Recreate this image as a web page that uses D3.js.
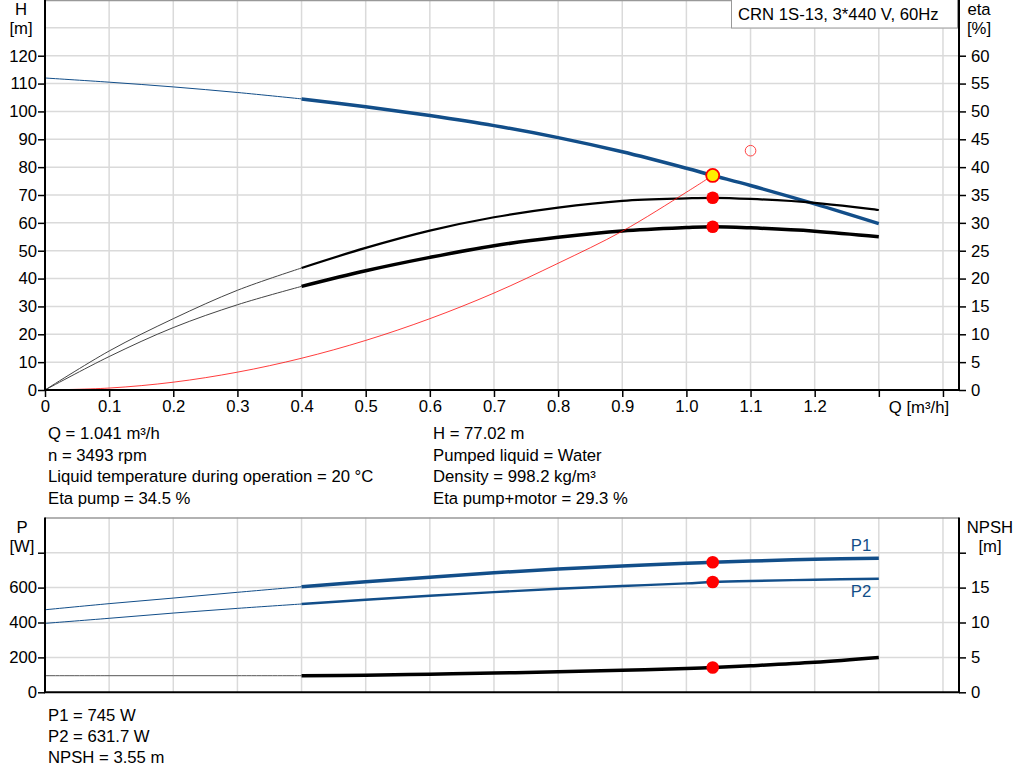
<!DOCTYPE html>
<html>
<head>
<meta charset="utf-8">
<script src="https://cdn.jsdelivr.net/npm/d3@7"></script>
<style>
  body { margin: 0; background: #fff; }
  svg text { font-family: "Liberation Sans", Arial, sans-serif; font-size: 16.7px; fill: #000; }
</style>
</head>
<body>
<svg id="chart" width="1024" height="781"></svg>
<script>
// flow points (m³/h) the curves were read at
const flow = [0, 0.1, 0.2, 0.3, 0.4, 0.5, 0.6, 0.7, 0.8, 0.9, 1.0, 1.041, 1.1, 1.2, 1.3];
const head = [112, 110.5, 108.8, 106.8, 104.5, 101.7, 98.5, 94.9, 90.6, 85.5, 79.6, 77.02, 73.4, 66.8, 59.7];
const etaPump = [0, 7.0, 12.8, 17.9, 21.9, 25.5, 28.6, 31.0, 32.75, 33.95, 34.4, 34.5, 34.3, 33.6, 32.3];
const etaTotal = [0, 6.0, 11.2, 15.3, 18.6, 21.4, 23.8, 25.9, 27.4, 28.55, 29.15, 29.3, 29.1, 28.5, 27.5];
const p1 = [473, 508, 540, 573, 605, 633, 660, 685, 706, 724, 739, 745, 752, 762, 768];
const p2 = [395, 424, 454, 481, 506, 530, 553, 574, 593, 609, 624, 631.7, 638, 645, 651];
const npsh = [2.38, 2.38, 2.38, 2.38, 2.38, 2.45, 2.6, 2.75, 2.93, 3.15, 3.4, 3.55, 3.8, 4.3, 5.0];

// system curve, ends at duty point
const sysFlow = [0, 0.1, 0.2, 0.3, 0.4, 0.5, 0.6, 0.7, 0.8, 0.9, 1.0, 1.041];
const sysHead = [0, 0.7, 2.8, 6.4, 11.4, 17.8, 25.6, 34.8, 45.5, 57.0, 71.0, 77.02];

const duty = { q: 1.041, h: 77.02, etaPump: 34.5, etaTotal: 29.3, p1: 745, p2: 631.7, npsh: 3.55 };
const requested = { q: 1.1, h: 85.9 };

const xTicks = [0, 0.1, 0.2, 0.3, 0.4, 0.5, 0.6, 0.7, 0.8, 0.9, 1.0, 1.1, 1.2, 1.3, 1.4];
const hTicks = [0, 10, 20, 30, 40, 50, 60, 70, 80, 90, 100, 110, 120];
const etaTicks = [0, 5, 10, 15, 20, 25, 30, 35, 40, 45, 50, 55, 60];
const pTicks = [0, 200, 400, 600, 800];
const npshTicks = [0, 5, 10, 15, 20];

const title = 'CRN 1S-13, 3*440 V, 60Hz';
const infoLeft = ['Q = 1.041 m³/h', 'n = 3493 rpm', 'Liquid temperature during operation = 20 °C', 'Eta pump = 34.5 %'];
const infoRight = ['H = 77.02 m', 'Pumped liquid = Water', 'Density = 998.2 kg/m³', 'Eta pump+motor = 29.3 %'];
const infoPower = ['P1 = 745 W', 'P2 = 631.7 W', 'NPSH = 3.55 m'];

const blue = '#124e89';
const gridColor = '#dadada';
const fontSize = 16.7;
const svg = d3.select('#chart');

const left = 45, right = 959;
const x = d3.scaleLinear([0, 1.425], [left, right]);

// upper chart
const yH = d3.scaleLinear([0, 140], [390, 0]);
const yEta = d3.scaleLinear([0, 70], [390, 0]);
// lower chart
const yP = d3.scaleLinear([0, 1000], [692.3, 517.8]);
const yN = d3.scaleLinear([0, 25], [692.3, 517.8]);

const drawGrid = (g, yScale, yGrid, y0, y1) => {
  g.selectAll('.vg').data(xTicks.filter(d => d > 0)).join('line')
    .attr('x1', d => x(d)).attr('x2', d => x(d))
    .attr('y1', y0).attr('y2', y1)
    .attr('stroke', gridColor).attr('stroke-width', 1.5);
  g.selectAll('.hg').data(yGrid).join('line')
    .attr('x1', left).attr('x2', right)
    .attr('y1', d => yScale(d)).attr('y2', d => yScale(d))
    .attr('stroke', gridColor).attr('stroke-width', 1.5);
  g.append('line').attr('x1', left).attr('x2', right).attr('y1', y0 + 0.5).attr('y2', y0 + 0.5)
    .attr('stroke', '#999').attr('stroke-width', 1.5);
};

const styleAxis = g => {
  g.select('.domain').remove();
  g.selectAll('.tick line').attr('stroke', '#000').attr('stroke-width', 1.5);
  g.selectAll('.tick text').attr('font-size', fontSize).attr('fill', '#000').attr('font-family', null);
};

const sideAxis = (scale, ticks, labelled, side) => {
  const ax = (side === 'left' ? d3.axisLeft(scale).tickPadding(1) : d3.axisRight(scale).tickPadding(5))
    .tickValues(ticks).tickSize(7)
    .tickFormat(d => labelled(d) ? d : '');
  return g => g.call(ax).call(styleAxis);
};

const curve = (xs, ys, yScale) => d3.line()
  .x((d, i) => x(xs[i])).y(d => yScale(d))
  .curve(d3.curveCatmullRom.alpha(0.5))(ys);

// split a curve into the thin part (q <= 0.4) and the thick part (q >= 0.4)
const split = (xs, ys) => {
  const cut = xs.indexOf(0.4);
  return [[xs.slice(0, cut + 1), ys.slice(0, cut + 1)], [xs.slice(cut), ys.slice(cut)]];
};

const drawCurve = (g, xs, ys, yScale, thin, thick) => {
  const [a, b] = split(xs, ys);
  g.append('path').attr('d', curve(a[0], a[1], yScale))
    .attr('fill', 'none').attr('stroke', thin.color).attr('stroke-width', thin.width);
  g.append('path').attr('d', curve(b[0], b[1], yScale))
    .attr('fill', 'none').attr('stroke', thick.color).attr('stroke-width', thick.width);
};

const dot = (g, q, v, yScale) => g.append('circle')
  .attr('cx', x(q)).attr('cy', yScale(v)).attr('r', 6.3).attr('fill', '#ff0000');

// ---- upper chart ----
const upper = svg.append('g');
drawGrid(upper, yH, d3.range(10, 140, 10), 0, 390);

drawCurve(upper, flow, head, yH, { color: blue, width: 1 }, { color: blue, width: 3.5 });
drawCurve(upper, flow, etaPump, yEta, { color: '#444', width: 1 }, { color: '#000', width: 2.2 });
drawCurve(upper, flow, etaTotal, yEta, { color: '#444', width: 1 }, { color: '#000', width: 3.5 });

upper.append('path').attr('d', curve(sysFlow, sysHead, yH))
  .attr('fill', 'none').attr('stroke', '#ff0000').attr('stroke-width', 0.9).attr('opacity', 0.85);

upper.append('circle').attr('cx', x(requested.q)).attr('cy', yH(requested.h)).attr('r', 5.3)
  .attr('fill', 'none').attr('stroke', '#ff4444').attr('stroke-width', 1);

dot(upper, duty.q, duty.etaPump, yEta);
dot(upper, duty.q, duty.etaTotal, yEta);
upper.append('circle').attr('cx', x(duty.q)).attr('cy', yH(duty.h)).attr('r', 6.5)
  .attr('fill', '#ffee00').attr('stroke', '#ff0000').attr('stroke-width', 1.8);

// axes
upper.append('g').attr('transform', `translate(${left},0)`)
  .call(sideAxis(yH, hTicks, () => true, 'left'));
upper.append('g').attr('transform', `translate(${right},0)`)
  .call(sideAxis(yEta, etaTicks, () => true, 'right'));

const xAxis = d3.axisBottom(x).tickValues(xTicks).tickSize(7).tickPadding(3)
  .tickFormat(d => d === 0 ? '0' : d <= 1.2 ? d.toFixed(1) : '');
upper.append('g').attr('transform', 'translate(0,390)').call(xAxis).call(styleAxis);

upper.append('line').attr('x1', left).attr('x2', left).attr('y1', 0).attr('y2', 391)
  .attr('stroke', '#000').attr('stroke-width', 2);
upper.append('line').attr('x1', right).attr('x2', right).attr('y1', 0).attr('y2', 391)
  .attr('stroke', '#000').attr('stroke-width', 2);
upper.append('line').attr('x1', left - 1).attr('x2', right + 1).attr('y1', 390).attr('y2', 390)
  .attr('stroke', '#000').attr('stroke-width', 2);

upper.append('text').attr('x', 919).attr('y', 413).attr('text-anchor', 'middle').text('Q [m³/h]');
upper.append('text').attr('x', 21).attr('y', 15).attr('text-anchor', 'middle').text('H');
upper.append('text').attr('x', 21).attr('y', 34).attr('text-anchor', 'middle').text('[m]');
upper.append('text').attr('x', 979).attr('y', 15).attr('text-anchor', 'middle').text('eta');
upper.append('text').attr('x', 979).attr('y', 34).attr('text-anchor', 'middle').text('[%]');

// title box
upper.append('rect').attr('x', 731.5).attr('y', -1).attr('width', 226).attr('height', 29)
  .attr('fill', '#fff').attr('stroke', '#999').attr('stroke-width', 1);
upper.append('text').attr('x', 738).attr('y', 20).text(title);

// info text
const info = svg.append('g');
info.selectAll('.l').data(infoLeft).join('text')
  .attr('x', 48).attr('y', (d, i) => 439 + i * 21.5).text(d => d);
info.selectAll('.r').data(infoRight).join('text')
  .attr('x', 433).attr('y', (d, i) => 439 + i * 21.5).text(d => d);

// ---- lower chart ----
const lower = svg.append('g');
drawGrid(lower, yP, [200, 400, 600, 800], 517.5, 692.3);

drawCurve(lower, flow, npsh, yN, { color: '#555', width: 1 }, { color: '#000', width: 3.5 });
drawCurve(lower, flow, p2, yP, { color: blue, width: 1 }, { color: blue, width: 2.4 });
drawCurve(lower, flow, p1, yP, { color: blue, width: 1 }, { color: blue, width: 3.5 });

dot(lower, duty.q, duty.p1, yP);
dot(lower, duty.q, duty.p2, yP);
dot(lower, duty.q, duty.npsh, yN);

lower.append('text').attr('x', 861).attr('y', 551).attr('text-anchor', 'middle').style('fill', blue).text('P1');
lower.append('text').attr('x', 861).attr('y', 597).attr('text-anchor', 'middle').style('fill', blue).text('P2');

lower.append('g').attr('transform', `translate(${left},0)`)
  .call(sideAxis(yP, pTicks, d => d < 800, 'left'));
lower.append('g').attr('transform', `translate(${right},0)`)
  .call(sideAxis(yN, npshTicks, d => d < 20, 'right'));

lower.append('line').attr('x1', left).attr('x2', left).attr('y1', 517.5).attr('y2', 693)
  .attr('stroke', '#000').attr('stroke-width', 2);
lower.append('line').attr('x1', right).attr('x2', right).attr('y1', 517.5).attr('y2', 693)
  .attr('stroke', '#000').attr('stroke-width', 2);
lower.append('line').attr('x1', left - 1).attr('x2', right + 1).attr('y1', 692.3).attr('y2', 692.3)
  .attr('stroke', '#000').attr('stroke-width', 2);

lower.append('text').attr('x', 22).attr('y', 533).attr('text-anchor', 'middle').text('P');
lower.append('text').attr('x', 22).attr('y', 552).attr('text-anchor', 'middle').text('[W]');
lower.append('text').attr('x', 990).attr('y', 533).attr('text-anchor', 'middle').text('NPSH');
lower.append('text').attr('x', 990).attr('y', 552).attr('text-anchor', 'middle').text('[m]');

svg.append('g').selectAll('text').data(infoPower).join('text')
  .attr('x', 48).attr('y', (d, i) => 721 + i * 21).text(d => d);
</script>
</body>
</html>
